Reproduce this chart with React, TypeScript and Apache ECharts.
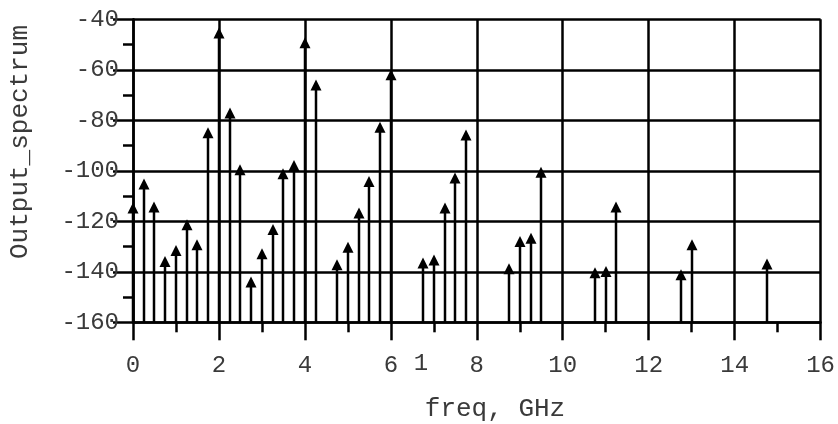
import React, { useEffect, useRef } from "react";
import * as echarts from "echarts";

const freqs = [
  0, 0.25, 0.5, 0.75, 1, 1.25, 1.5, 1.75, 2, 2.25, 2.5, 2.75, 3, 3.25, 3.5, 3.75, 4, 4.25,
  4.75, 5, 5.25, 5.5, 5.75, 6, 6.75, 7, 7.25, 7.5, 7.75, 8.75, 9, 9.25, 9.5, 10.75, 11, 11.25,
  12.75, 13, 14.75,
];
const spectrum = [
  -112.6, -103, -112.2, -133.7, -129.4, -119.2, -127.1, -82.8, -43.2, -74.9, -97.4, -141.9,
  -130.7, -121.1, -99, -95.7, -47.1, -63.8, -135, -128.1, -114.5, -102.1, -80.6, -59.8, -134.3,
  -133.1, -112.6, -100.7, -83.6, -136.6, -125.8, -124.5, -98.4, -138.2, -137.7, -112.2, -139,
  -127.1, -134.7,
];
const xTitle = "freq, GHz";
const yTitle = "Output_spectrum";
const strayLabel = "1";
const strayLabelAt = 6.7;

const FONT = "'Courier New', 'Liberation Mono', monospace";
const TEXT = "#3a3a3a";
const LW = 2.5;

export default function App() {
  const ref = useRef<HTMLDivElement>(null);
  useEffect(() => {
    if (!ref.current) return;
    const chart = echarts.init(ref.current, null, { renderer: "svg" });
    const data = freqs.map((f, i) => [f, spectrum[i]]);
    const lineStyle = { color: "#000", width: LW };
    chart.setOption({
      animation: false,
      grid: { left: 133, right: 13, top: 19.3, bottom: 101.7, containLabel: false },
      xAxis: {
        type: "value",
        min: 0,
        max: 16,
        interval: 2,
        axisLine: { show: true, lineStyle },
        axisTick: { show: true, length: 18, lineStyle },
        minorTick: { show: true, splitNumber: 2, length: 10, lineStyle },
        splitLine: { show: true, lineStyle },
        axisLabel: { margin: 31, fontSize: 24, fontFamily: FONT, color: TEXT },
      },
      yAxis: {
        type: "value",
        min: -160,
        max: -40,
        interval: 20,
        axisLine: { show: true, lineStyle },
        axisTick: { show: true, length: 20, lineStyle },
        minorTick: { show: true, splitNumber: 2, length: 10, lineStyle },
        splitLine: { show: true, lineStyle },
        axisLabel: { margin: 14, fontSize: 24, fontFamily: FONT, color: TEXT },
      },
      series: [
        {
          type: "custom",
          clip: false,
          data,
          renderItem: (params: any, api: any) => {
            const x = api.value(0);
            const y = api.value(1);
            const top = api.coord([x, y]);
            const base = api.coord([x, -160]);
            const px = Math.round(top[0]);
            const ah = 11;
            const aw = 5.5;
            return {
              type: "group",
              children: [
                {
                  type: "line",
                  shape: { x1: px, y1: top[1] + ah - 1, x2: px, y2: Math.round(base[1]) },
                  style: { stroke: "#000", lineWidth: LW },
                },
                {
                  type: "polygon",
                  shape: {
                    points: [
                      [px, top[1]],
                      [px - aw, top[1] + ah],
                      [px + aw, top[1] + ah],
                    ],
                  },
                  style: { fill: "#000" },
                },
              ],
            };
          },
        },
      ],
    });
    const sx = chart.convertToPixel({ xAxisIndex: 0 } as any, strayLabelAt) as number;
    chart.setOption({
      graphic: [
        {
          type: "text",
          x: sx,
          y: 363,
          style: {
            text: strayLabel,
            fontSize: 24,
            fontFamily: FONT,
            fill: TEXT,
            align: "center",
            verticalAlign: "middle",
          },
        },
        {
          type: "text",
          x: 495,
          y: 409,
          style: {
            text: xTitle,
            fontSize: 26,
            fontFamily: FONT,
            fill: TEXT,
            align: "center",
            verticalAlign: "middle",
          },
        },
        {
          type: "text",
          x: 20,
          y: 142,
          rotation: Math.PI / 2,
          style: {
            text: yTitle,
            fontSize: 26,
            fontFamily: FONT,
            fill: TEXT,
            align: "center",
            verticalAlign: "middle",
          },
        },
      ],
    });
    return () => chart.dispose();
  }, []);
  return (
    <div
      ref={ref}
      style={{ position: "fixed", left: 0, top: 0, width: 838, height: 424 }}
    />
  );
}
